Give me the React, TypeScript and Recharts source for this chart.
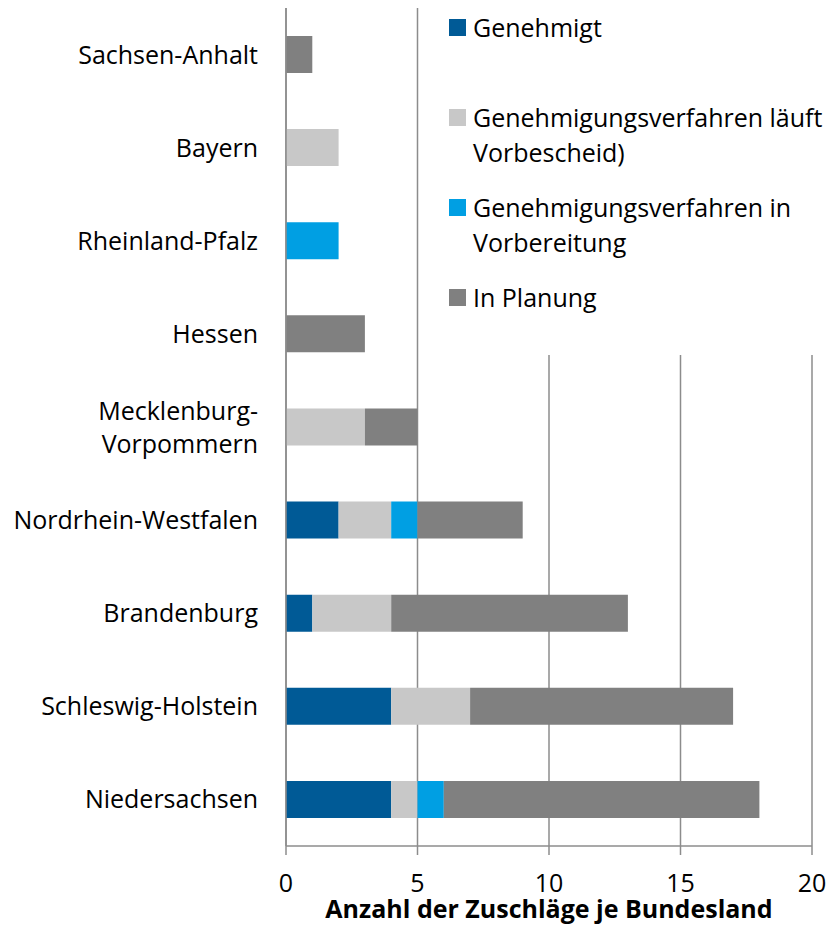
import { BarChart, Bar, XAxis, YAxis, CartesianGrid, Legend } from "recharts";

// Bundesländer von oben nach unten
const categories = [
  "Sachsen-Anhalt",
  "Bayern",
  "Rheinland-Pfalz",
  "Hessen",
  "Mecklenburg-Vorpommern",
  "Nordrhein-Westfalen",
  "Brandenburg",
  "Schleswig-Holstein",
  "Niedersachsen",
];
const genehmigt = [0, 0, 0, 0, 0, 2, 1, 4, 4];
const verfahrenLaeuft = [0, 2, 0, 0, 3, 2, 3, 3, 1];
const inVorbereitung = [0, 0, 2, 0, 0, 1, 0, 0, 1];
const inPlanung = [1, 0, 0, 3, 2, 4, 9, 10, 12];

const seriesKeys = ["genehmigt", "laeuft", "vorbereitung", "planung"];
const seriesNames = [
  "Genehmigt",
  "Genehmigungsverfahren läuft\nVorbescheid)",
  "Genehmigungsverfahren in\nVorbereitung",
  "In Planung",
];
const seriesColors = ["#005a96", "#c8c8c8", "#009fe3", "#808080"];
const xTicks = [0, 5, 10, 15, 20];
const bandTicks = [0, 1, 2, 3, 4, 5, 6, 7, 8, 9];
const axisTitle = "Anzahl der Zuschläge je Bundesland";

const data = categories.map((name, i) => ({
  name,
  genehmigt: genehmigt[i],
  laeuft: verfahrenLaeuft[i],
  vorbereitung: inVorbereitung[i],
  planung: inPlanung[i],
}));

const FONT = "'Open Sans', 'Noto Sans', sans-serif";
const FS = 25;
const AXIS = "#8c8c8c";

const CategoryTick = (props: any) => {
  const { x, y, payload } = props;
  const text: string = payload.value;
  // lange Namen am Bindestrich umbrechen
  const cut = text.indexOf("-");
  const lines =
    text.length > 20 && cut > 0 ? [text.slice(0, cut + 1), text.slice(cut + 1)] : [text];
  const lh = 33;
  const start = y - ((lines.length - 1) * lh) / 2;
  return (
    <text textAnchor="end" fontFamily={FONT} fontSize={FS} fill="#000">
      {lines.map((l, i) => (
        <tspan key={i} x={x} y={start + i * lh} dy="0.36em">
          {l}
        </tspan>
      ))}
    </text>
  );
};

const AxisTitle = (props: any) => {
  const { viewBox } = props;
  return (
    <text
      x={viewBox.x + viewBox.width / 2}
      y={viewBox.y + 72}
      textAnchor="middle"
      fontFamily={FONT}
      fontSize={FS}
      fontWeight="bold"
      fill="#000"
    >
      {axisTitle}
    </text>
  );
};

const renderLegend = (props: any) => {
  // Reihenfolge wie die Serien, nicht alphabetisch
  const payload = [...props.payload].sort(
    (a: any, b: any) => seriesNames.indexOf(a.value) - seriesNames.indexOf(b.value)
  );
  return (
    <div
      style={{
        position: "relative",
        width: 386,
        height: 355,
        background: "#fff",
        fontFamily: FONT,
        fontSize: FS,
        color: "#000",
      }}
    >
      {payload.map((entry: any, i: number) => (
        <div
          key={i}
          style={{ position: "absolute", left: 9, top: 9.5 + i * 90, display: "flex" }}
        >
          <span
            style={{
              width: 17,
              height: 17,
              background: entry.color,
              marginTop: 9,
              marginRight: 7,
              flex: "none",
            }}
          />
          <span style={{ whiteSpace: "pre", lineHeight: "35px" }}>{entry.value}</span>
        </div>
      ))}
    </div>
  );
};

export default function App() {
  return (
    <div style={{ position: "absolute", left: 0, top: 0, background: "#fff" }}>
      <BarChart
        width={826}
        height={926}
        data={data}
        layout="vertical"
        margin={{ top: 8, right: 14, bottom: 0, left: 0 }}
      >
        <CartesianGrid horizontal={false} stroke={AXIS} strokeWidth={1.5} />
        <XAxis
          type="number"
          domain={[0, 20]}
          ticks={xTicks}
          interval={0}
          height={80}
          stroke={AXIS}
          axisLine={{ stroke: AXIS, strokeWidth: 1.5 }}
          tickLine={{ stroke: AXIS, strokeWidth: 1.5 }}
          tickSize={9}
          tickMargin={19}
          tick={{ fill: "#000", fontSize: FS, fontFamily: FONT }}
          label={{ content: AxisTitle }}
        />
        <YAxis
          type="category"
          dataKey="name"
          width={286}
          axisLine={{ stroke: AXIS, strokeWidth: 1.5 }}
          tickLine={false}
          tickSize={9}
          tickMargin={19}
          interval={0}
          tick={<CategoryTick />}
        />
        <YAxis
          yAxisId="bands"
          type="number"
          domain={[0, 9]}
          ticks={bandTicks}
          interval={0}
          allowDataOverflow
          width={0}
          axisLine={false}
          tick={false}
          tickSize={9}
          tickLine={{ stroke: AXIS, strokeWidth: 1.5 }}
        />
        <Legend
          content={renderLegend}
          layout="vertical"
          align="center"
          verticalAlign="middle"
          wrapperStyle={{ position: "absolute", left: 440, top: 0, width: 386, height: 355 }}
        />
        {seriesKeys.map((k, i) => (
          <Bar
            key={k}
            dataKey={k}
            name={seriesNames[i]}
            stackId="a"
            fill={seriesColors[i]}
            barSize={37}
            isAnimationActive={false}
          />
        ))}
      </BarChart>
    </div>
  );
}
